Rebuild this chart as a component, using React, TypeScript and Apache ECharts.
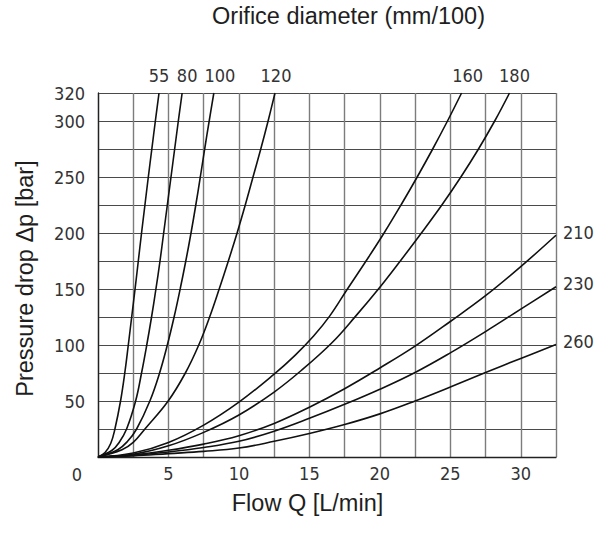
import { useEffect, useRef } from "react";
import * as echarts from "echarts";

// Orifice diameters (mm/100), one curve each: [flow Q L/min, pressure drop bar]
const curveNames = ["55", "80", "100", "120", "160", "180", "210", "230", "260"];

const d55 = [[0, 0], [0.5, 4], [0.9, 12], [1.2, 25], [1.6, 50], [1.9, 75], [2.15, 100], [2.39, 125], [2.63, 150], [2.86, 175], [3.09, 200], [3.33, 225], [3.57, 250], [3.82, 275], [4.07, 300], [4.33, 325]];
const d80 = [[0, 0], [1, 6], [1.5, 13], [2.03, 25], [2.67, 50], [3.09, 75], [3.46, 100], [3.8, 125], [4.11, 150], [4.4, 175], [4.66, 200], [4.92, 225], [5.18, 250], [5.44, 275], [5.7, 300], [5.97, 325]];
const d100 = [[0, 0], [1.4, 6.5], [2.1, 14], [2.74, 25], [3.68, 50], [4.37, 75], [4.92, 100], [5.4, 125], [5.83, 150], [6.23, 175], [6.6, 200], [6.94, 225], [7.26, 250], [7.57, 275], [7.89, 300], [8.22, 325]];
const d120 = [[0, 0], [1.7, 6.5], [2.5, 13], [3.33, 25], [4.98, 50], [6.2, 75], [7.15, 100], [7.92, 125], [8.6, 150], [9.25, 175], [9.87, 200], [10.45, 225], [11.0, 250], [11.55, 275], [12.07, 300], [12.56, 325]];
const d160 = [[0, 0], [2.5, 3.5], [5, 13], [7.5, 28.5], [10, 49], [12.5, 74], [14.0, 91], [15.3, 108], [16.45, 126], [17.7, 150], [19.02, 175], [20.3, 200], [21.5, 225], [22.65, 250], [23.75, 275], [24.8, 300], [25.8, 325]];
const d180 = [[0, 0], [2.5, 2.5], [5, 10], [7.5, 22], [10, 37.5], [12.5, 58], [14.4, 77], [16.6, 102], [18.3, 126], [19.9, 150], [21.45, 175], [22.95, 200], [24.4, 225], [25.75, 250], [27.0, 275], [28.15, 300], [29.2, 325]];
const d210 = [[0, 0], [2.5, 2], [5, 6], [7.5, 11.5], [10, 19], [12.5, 30], [15, 44.5], [17.5, 61], [20, 79.5], [22.5, 99], [25, 121], [27.5, 144], [30, 170], [32.5, 198]];
const d230 = [[0, 0], [2.5, 1.5], [5, 4.5], [7.5, 8.5], [10, 14], [12.5, 23], [15, 34.5], [17.5, 47], [20, 60.5], [22.5, 75.5], [25, 93], [27.5, 112], [30, 132], [32.5, 152]];
const d260 = [[0, 0], [2.5, 1], [5, 3], [7.5, 5], [10, 8], [12.5, 14], [15, 21], [17.5, 29], [20, 38.5], [22.5, 50], [25, 62.5], [27.5, 75.5], [30, 88], [32.5, 100.5]];

const curveData = [d55, d80, d100, d120, d160, d180, d210, d230, d260];
// where each curve's label sits: at the top edge or at the right edge
const labelSide = ["top", "top", "top", "top", "top", "top", "right", "right", "right"];

const xTickValues = [5, 10, 15, 20, 25, 30];
const yTickValues = [50, 100, 150, 200, 250, 300, 325];
const yTickTexts = ["50", "100", "150", "200", "250", "300", "320"];

const titleTop = "Orifice diameter (mm/100)";
const titleX = "Flow Q [L/min]";
const titleY = "Pressure drop \u0394p [bar]";

const tickFont = "'Liberation Sans Narrow', 'DejaVu Sans Condensed', 'Roboto', sans-serif";
const titleFont = "'Liberation Sans', Arial, sans-serif";
const tickColor = "#333";

export default function App() {
  const ref = useRef<HTMLDivElement>(null);

  useEffect(() => {
    document.body.style.margin = "0";
    if (!ref.current) return;
    const chart = echarts.init(ref.current, undefined, { renderer: "svg" });

    const tickLabel = { fontFamily: tickFont, fontSize: 18, color: tickColor };

    chart.setOption({
      animation: false,
      grid: { left: 98, top: 93, right: 39, bottom: 76, containLabel: false },
      xAxis: {
        type: "value",
        min: 0,
        max: 32.5,
        interval: 2.5,
        axisLine: { show: true, lineStyle: { color: "#222", width: 1.3 } },
        axisTick: { show: false },
        axisLabel: {
          ...tickLabel,
          margin: 7,
          formatter: (v: number) => (xTickValues.includes(v) ? String(v) : ""),
        },
        splitLine: { show: true, lineStyle: { color: "#7c7c7c", width: 1.4 } },
      },
      yAxis: {
        type: "value",
        min: 0,
        max: 325,
        interval: 25,
        axisLine: { show: true, lineStyle: { color: "#222", width: 1.3 } },
        axisTick: { show: false },
        axisLabel: {
          ...tickLabel,
          margin: 13,
          formatter: (v: number) => {
            const i = yTickValues.indexOf(v);
            return i >= 0 ? yTickTexts[i] : "";
          },
        },
        splitLine: { show: true, lineStyle: { color: "#4a4a4a", width: 1.2 } },
      },
      series: curveData.map((d, i) => ({
        type: "line",
        name: curveNames[i],
        data: d,
        smooth: 0.4,
        symbol: "none",
        lineStyle: { color: "#111", width: 1.6 },
        silent: true,
      })),
    });

    const topDx = [0, 5, 6, 1, 6, 5];
    const labels: any[] = [];
    curveData.forEach((d, i) => {
      const last = d[d.length - 1];
      const p = chart.convertToPixel({ gridIndex: 0 }, last) as number[];
      if (labelSide[i] === "top") {
        labels.push({
          type: "text",
          x: p[0] + (topDx[i] ?? 4),
          y: p[1] - 18,
          style: { text: curveNames[i], fontFamily: tickFont, fontSize: 18, fill: tickColor, align: "center", verticalAlign: "middle" },
        });
      } else {
        labels.push({
          type: "text",
          x: p[0] + 7,
          y: p[1] - 3,
          style: { text: curveNames[i], fontFamily: tickFont, fontSize: 18, fill: tickColor, align: "left", verticalAlign: "middle" },
        });
      }
    });
    const origin = chart.convertToPixel({ gridIndex: 0 }, [0, 0]) as number[];

    chart.setOption({
      graphic: [
        ...labels,
        {
          type: "text",
          x: origin[0] - 21,
          y: origin[1] + 17,
          style: { text: "0", fontFamily: tickFont, fontSize: 18, fill: tickColor, align: "center", verticalAlign: "middle" },
        },
        {
          type: "text",
          x: 348.5,
          y: 16,
          style: { text: titleTop, fontFamily: titleFont, fontSize: 23.5, fill: "#1e1e1e", align: "center", verticalAlign: "middle" },
        },
        {
          type: "text",
          x: 307.5,
          y: 503,
          style: { text: titleX, fontFamily: titleFont, fontSize: 23.5, fill: "#1e1e1e", align: "center", verticalAlign: "middle" },
        },
        {
          type: "text",
          x: 25,
          y: 278.5,
          rotation: Math.PI / 2,
          style: { text: titleY, fontFamily: titleFont, fontSize: 23.5, fill: "#1e1e1e", align: "center", verticalAlign: "middle" },
        },
      ],
    });

    return () => chart.dispose();
  }, []);

  return <div ref={ref} style={{ width: 595, height: 533 }} />;
}
